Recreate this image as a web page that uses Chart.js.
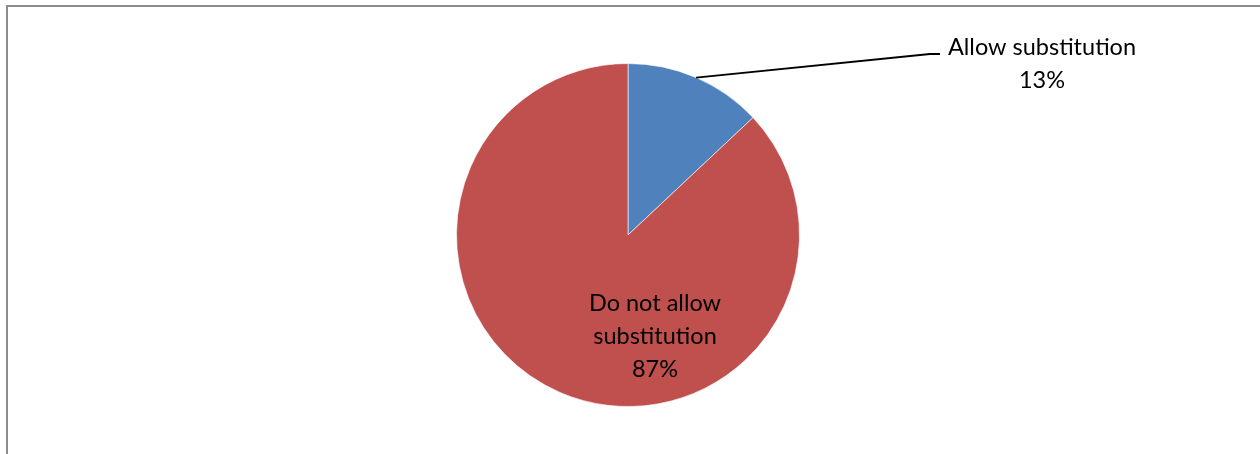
<!DOCTYPE html>
<html>
<head>
<meta charset="utf-8">
<script src="https://cdn.jsdelivr.net/npm/chart.js@4"></script>
<style>
  html, body { margin: 0; padding: 0; background: #fff; }
  #wrap { width: 1260px; height: 454px; }
</style>
</head>
<body>
<div id="wrap"><canvas id="pie_chart" width="1260" height="454"></canvas></div>
<script>
// slice data
const labels = ['Allow substitution', 'Do not allow substitution'];
const labelLines = [['Allow substitution'], ['Do not allow', 'substitution']];
const values = [13, 87];
const colors = ['#4F81BD', '#C0504D'];

const fontFamily = 'Lato, "Open Sans", sans-serif';
const fontSize = 23.5;
const lineHeight = 33;

// frame around the chart area (left and top edges)
const framePlugin = {
    id: 'frame',
    beforeDraw(chart) {
        const ctx = chart.ctx;
        ctx.save();
        ctx.fillStyle = '#ffffff';
        ctx.fillRect(0, 0, chart.width, chart.height);
        ctx.fillStyle = '#8c8c8c';
        ctx.fillRect(6, 5, 2, chart.height - 5);
        ctx.fillRect(6, 5, chart.width - 6, 2);
        ctx.restore();
    }
};

// data labels: first one outside with a leader line, second one inside
const labelPlugin = {
    id: 'sliceLabels',
    afterDatasetsDraw(chart) {
        const ctx = chart.ctx;
        const arcs = chart.getDatasetMeta(0).data;
        const total = values.reduce((a, b) => a + b, 0);
        ctx.save();
        ctx.font = fontSize + 'px ' + fontFamily;
        ctx.fillStyle = '#000';
        ctx.textAlign = 'center';
        ctx.textBaseline = 'middle';

        // outside label
        const a0 = arcs[0];
        const mid = (a0.startAngle + a0.endAngle) / 2;
        const sx = a0.x + Math.cos(mid) * a0.outerRadius;
        const sy = a0.y + Math.sin(mid) * a0.outerRadius;
        const ex = a0.x + 302;
        const ey = a0.y - 181;
        ctx.strokeStyle = '#000';
        ctx.lineWidth = 1.8;
        ctx.beginPath();
        ctx.moveTo(sx, sy);
        ctx.lineTo(ex, ey);
        ctx.lineTo(ex + 10, ey);
        ctx.stroke();
        const lx = a0.x + 414;
        const ly = a0.y - 188;
        const lines0 = labelLines[0].concat([Math.round(values[0] / total * 100) + '%']);
        lines0.forEach((t, i) => ctx.fillText(t, lx, ly + i * lineHeight));

        // inside label
        const a1 = arcs[1];
        const ix = a1.x + 27;
        const iy = a1.y + 68;
        const lines1 = labelLines[1].concat([Math.round(values[1] / total * 100) + '%']);
        lines1.forEach((t, i) => ctx.fillText(t, ix, iy + i * lineHeight));
        ctx.restore();
    }
};

new Chart(document.getElementById('pie_chart'), {
    type: 'pie',
    data: {
        labels: labels,
        datasets: [{
            data: values,
            backgroundColor: colors,
            borderColor: 'rgba(255,255,255,0.6)',
            borderWidth: 1
        }]
    },
    options: {
        responsive: false,
        animation: false,
        layout: { padding: { top: 63, bottom: 47, left: 0, right: 4 } },
        plugins: {
            legend: { display: false },
            tooltip: { enabled: false }
        }
    },
    plugins: [framePlugin, labelPlugin]
});
</script>
</body>
</html>
